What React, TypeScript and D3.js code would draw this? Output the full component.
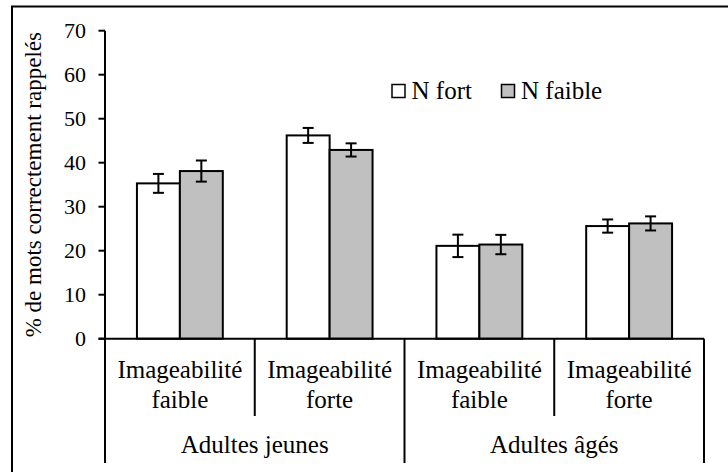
import React from "react";
import * as d3 from "d3";

const groups = ["Adultes jeunes", "Adultes âgés"];
const conditions = ["Imageabilité faible", "Imageabilité forte", "Imageabilité faible", "Imageabilité forte"];
const conditionLines = [["Imageabilité", "faible"], ["Imageabilité", "forte"], ["Imageabilité", "faible"], ["Imageabilité", "forte"]];
const series = ["N fort", "N faible"];
const nFort = [35.3, 46.2, 21.1, 25.6];
const nFaible = [38.1, 42.9, 21.4, 26.2];
const errFort = [2.15, 1.7, 2.55, 1.5];
const errFaible = [2.4, 1.5, 2.2, 1.6];
const yTicks = [0, 10, 20, 30, 40, 50, 60, 70];
const colors = ["#ffffff", "#c0c0c0"];

const FONT = "'Liberation Serif', 'Times New Roman', serif";

export default function App() {
  const W = 728, H = 472;
  const y = d3.scaleLinear().domain([0, 70]).range([338.7, 30.7]);
  const idx = d3.range(conditions.length).map(String);
  const x0 = d3.scaleBand<string>().domain(idx).range([105, 704]).padding(0);
  const step = x0.bandwidth();
  const x1 = d3.scaleBand<string>().domain(series).range([0, step]).paddingInner(0).paddingOuter(0.744);
  const values = [nFort, nFaible];
  const errs = [errFort, errFaible];
  const axisY = y(0);
  const capW = 11;

  return (
    <svg className="chart-root" width={W} height={H} style={{ position: "absolute", left: 0, top: 0 }}>
      <style>{`.chart-root text, svg text { font-family: ${FONT} !important; }`}</style>
      <rect x={12} y={6.5} width={730} height={480} fill="#fff" stroke="#000" strokeWidth={2} />
      {idx.map((c, i) => (
        <g key={c} transform={`translate(${x0(c)},0)`}>
          {series.map((s, si) => {
            const v = values[si][i];
            const e = errs[si][i];
            const bx = x1(s)!;
            const bw = x1.bandwidth();
            const cx = bx + bw / 2;
            return (
              <g key={s}>
                <rect x={bx} y={y(v)} width={bw} height={axisY - y(v)} fill={colors[si]} stroke="#000" strokeWidth={2} />
                <line x1={cx} x2={cx} y1={y(v + e)} y2={y(v - e)} stroke="#000" strokeWidth={2} />
                <line x1={cx - capW / 2} x2={cx + capW / 2} y1={y(v + e)} y2={y(v + e)} stroke="#000" strokeWidth={2} />
                <line x1={cx - capW / 2} x2={cx + capW / 2} y1={y(v - e)} y2={y(v - e)} stroke="#000" strokeWidth={2} />
              </g>
            );
          })}
        </g>
      ))}
      <line x1={105} x2={105} y1={y(70)} y2={463} stroke="#000" strokeWidth={2} />
      {yTicks.map((t) => (
        <g key={t}>
          <line x1={98.5} x2={105} y1={y(t)} y2={y(t)} stroke="#000" strokeWidth={2} />
          <text x={86} y={y(t)} dy="0.35em" textAnchor="end" fontSize={22}>{t}</text>
        </g>
      ))}
      <line x1={98.5} x2={704} y1={axisY} y2={axisY} stroke="#000" strokeWidth={2} />
      {idx.map((c, i) => {
        const right = x0(c)! + step;
        const tall = i % 2 === 1;
        return (
          <g key={c}>
            <line x1={right} x2={right} y1={axisY} y2={tall ? 463 : 416} stroke="#000" strokeWidth={2} />
            {conditionLines[i].map((ln, li) => (
              <text key={li} x={x0(c)! + step / 2} y={378.3 + li * 30} textAnchor="middle" fontSize={25}>{ln}</text>
            ))}
          </g>
        );
      })}
      {groups.map((g, gi) => {
        const a = x0(String(gi * 2))!;
        const b = x0(String(gi * 2 + 1))! + step;
        return (
          <text key={g} x={(a + b) / 2} y={453} textAnchor="middle" fontSize={25}>{g}</text>
        );
      })}
      <text transform={`translate(33,${(y(0) + y(70)) / 2}) rotate(-90)`} textAnchor="middle" dy="0.35em" fontSize={23}>
        % de mots correctement rappelés
      </text>
      {series.map((s, si) => {
        const lx = [392, 501.5][si];
        return (
          <g key={s}>
            <rect x={lx} y={84.5} width={13} height={13} fill={colors[si]} stroke="#000" strokeWidth={1.5} />
            <text x={lx + 19.5} y={99.3} fontSize={25}>{s}</text>
          </g>
        );
      })}
    </svg>
  );
}
